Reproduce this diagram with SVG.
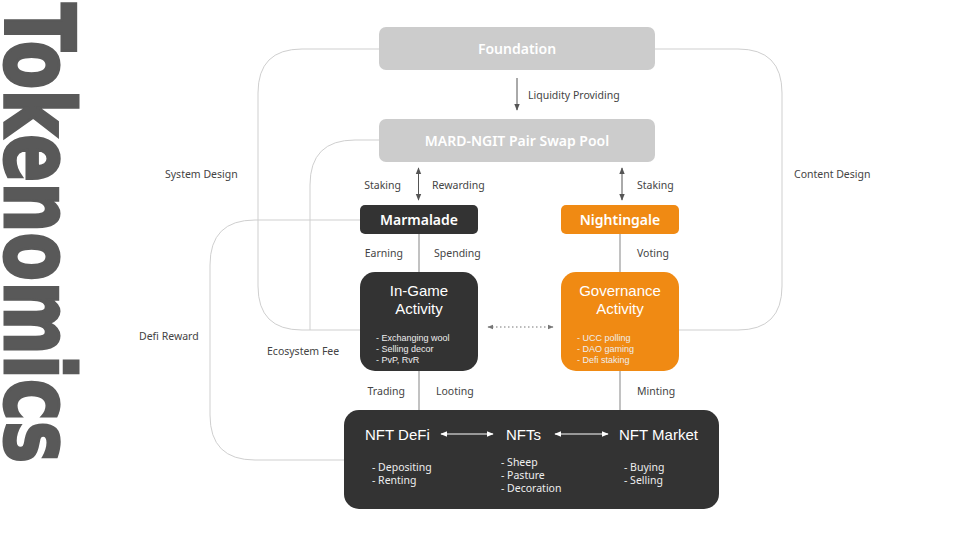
<svg xmlns="http://www.w3.org/2000/svg" width="960" height="540" viewBox="0 0 960 540">
<defs>
<style>
.lbl{font-family:"Noto Sans","Open Sans",sans-serif;font-size:10.5px;fill:#444}
.ttl{font-family:"Noto Sans","Open Sans",sans-serif;font-size:14px;font-weight:600;fill:#fff}
.big{font-family:"Liberation Sans","Noto Sans",sans-serif;font-size:15px;fill:#fff}
.bul{font-family:"Liberation Sans","Noto Sans",sans-serif;font-size:9px;fill:#eee}
.bul2{font-family:"Noto Sans","Open Sans",sans-serif;font-size:10.5px;fill:#eee}
.loop{fill:none;stroke:#cfcfcf;stroke-width:1}
.link{fill:none;stroke:#999;stroke-width:1.2}
.arr{fill:none;stroke:#555;stroke-width:1}
.warr{fill:none;stroke:#fff;stroke-width:1}
.title{font-family:"DejaVu Sans Condensed","DejaVu Sans",sans-serif;font-weight:bold;font-size:97px;fill:#595959;stroke:#595959;stroke-width:3;stroke-linejoin:miter}
</style>
<marker id="ah" viewBox="0 0 10 10" refX="9" refY="5" markerWidth="7" markerHeight="7" orient="auto-start-reverse" markerUnits="userSpaceOnUse">
<path d="M0,1 L10,5 L0,9 z" fill="#555"/>
</marker>
<marker id="wh" viewBox="0 0 10 10" refX="9" refY="5" markerWidth="7" markerHeight="7" orient="auto-start-reverse" markerUnits="userSpaceOnUse">
<path d="M0,1 L10,5 L0,9 z" fill="#fff"/>
</marker>
<marker id="dh" viewBox="0 0 10 10" refX="9" refY="5" markerWidth="6" markerHeight="6" orient="auto-start-reverse" markerUnits="userSpaceOnUse">
<path d="M0,1 L10,5 L0,9 z" fill="#777"/>
</marker>
</defs>
<rect width="960" height="540" fill="#fff"/>
<text class="title" transform="translate(5,3) rotate(90)" x="0" y="0" textLength="460" lengthAdjust="spacingAndGlyphs">Tokenomics</text>

<g id="connectors">
<path class="loop" d="M379,49 H302 Q258,49 258,93 V286 Q258,330 302,330 H360"/>
<path class="loop" d="M655,49 H738 Q782,49 782,93 V286 Q782,330 738,330 H679"/>
<path class="loop" d="M379,140 H355 Q310,140 310,185 V330"/>
<path class="loop" d="M360,220 H255 Q210,220 210,265 V415 Q210,460 255,460 H344"/>
<line class="arr" x1="517" y1="78" x2="517" y2="110" marker-end="url(#ah)"/>
<line class="arr" x1="418.5" y1="168" x2="418.5" y2="200" marker-start="url(#ah)" marker-end="url(#ah)"/>
<line class="arr" x1="622" y1="168" x2="622" y2="200" marker-start="url(#ah)" marker-end="url(#ah)"/>
<line class="link" x1="419" y1="234" x2="419" y2="272"/>
<line class="link" x1="620" y1="234" x2="620" y2="272"/>
<line class="link" x1="419" y1="371" x2="419" y2="410"/>
<line class="link" x1="620" y1="371" x2="620" y2="410"/>
<line x1="488" y1="327" x2="553" y2="327" stroke="#777" stroke-width="1" stroke-dasharray="1.5,2.5" marker-start="url(#dh)" marker-end="url(#dh)"/>
<text class="lbl" x="528" y="99">Liquidity Providing</text>
<text class="lbl" x="401" y="189" text-anchor="end">Staking</text>
<text class="lbl" x="432" y="189">Rewarding</text>
<text class="lbl" x="637" y="189">Staking</text>
<text class="lbl" x="403" y="257" text-anchor="end">Earning</text>
<text class="lbl" x="434" y="257">Spending</text>
<text class="lbl" x="637" y="257">Voting</text>
<text class="lbl" x="405" y="395" text-anchor="end">Trading</text>
<text class="lbl" x="436" y="395">Looting</text>
<text class="lbl" x="637" y="395">Minting</text>
<text class="lbl" x="165" y="178">System Design</text>
<text class="lbl" x="794" y="178">Content Design</text>
<text class="lbl" x="139" y="340">Defi Reward</text>
<text class="lbl" x="267" y="355">Ecosystem Fee</text>
</g>

<g id="foundation">
<rect x="379" y="27" width="276" height="43" rx="7" fill="#cccccc"/>
<text class="ttl" x="517" y="53.5" text-anchor="middle">Foundation</text>
</g>
<g id="swap-pool">
<rect x="379" y="119" width="276" height="43" rx="7" fill="#cccccc"/>
<text class="ttl" x="517" y="145.5" text-anchor="middle">MARD-NGIT Pair Swap Pool</text>
</g>
<g id="marmalade">
<rect x="360" y="205" width="118" height="29" rx="5" fill="#333333"/>
<text class="ttl" x="419" y="224.5" text-anchor="middle">Marmalade</text>
</g>
<g id="nightingale">
<rect x="561" y="205" width="118" height="29" rx="5" fill="#f08a13"/>
<text class="ttl" x="620" y="224.5" text-anchor="middle">Nightingale</text>
</g>
<g id="in-game">
<rect x="360" y="272" width="118" height="99" rx="15" fill="#333333"/>
<text class="big" x="419" y="295.5" text-anchor="middle">In-Game</text>
<text class="big" x="419" y="313.5" text-anchor="middle">Activity</text>
<text class="bul" x="376" y="341">- Exchanging wool</text>
<text class="bul" x="376" y="352">- Selling decor</text>
<text class="bul" x="376" y="363">- PvP, RvR</text>
</g>
<g id="governance">
<rect x="561" y="272" width="118" height="99" rx="15" fill="#f08a13"/>
<text class="big" x="620" y="295.5" text-anchor="middle">Governance</text>
<text class="big" x="620" y="313.5" text-anchor="middle">Activity</text>
<text class="bul" x="577" y="341">- UCC polling</text>
<text class="bul" x="577" y="352">- DAO gaming</text>
<text class="bul" x="577" y="363">- Defi staking</text>
</g>
<g id="nft">
<rect x="344" y="410" width="375" height="99" rx="15" fill="#333333"/>
<text class="big" x="365" y="439.5">NFT DeFi</text>
<text class="big" x="506" y="439.5">NFTs</text>
<text class="big" x="619" y="439.5">NFT Market</text>
<line class="warr" x1="441" y1="434" x2="493" y2="434" marker-start="url(#wh)" marker-end="url(#wh)"/>
<line class="warr" x1="555" y1="434" x2="608" y2="434" marker-start="url(#wh)" marker-end="url(#wh)"/>
<text class="bul2" x="372" y="471">- Depositing</text>
<text class="bul2" x="372" y="484">- Renting</text>
<text class="bul2" x="501" y="466">- Sheep</text>
<text class="bul2" x="501" y="479">- Pasture</text>
<text class="bul2" x="501" y="492">- Decoration</text>
<text class="bul2" x="624" y="471">- Buying</text>
<text class="bul2" x="624" y="484">- Selling</text>
</g>
</svg>
